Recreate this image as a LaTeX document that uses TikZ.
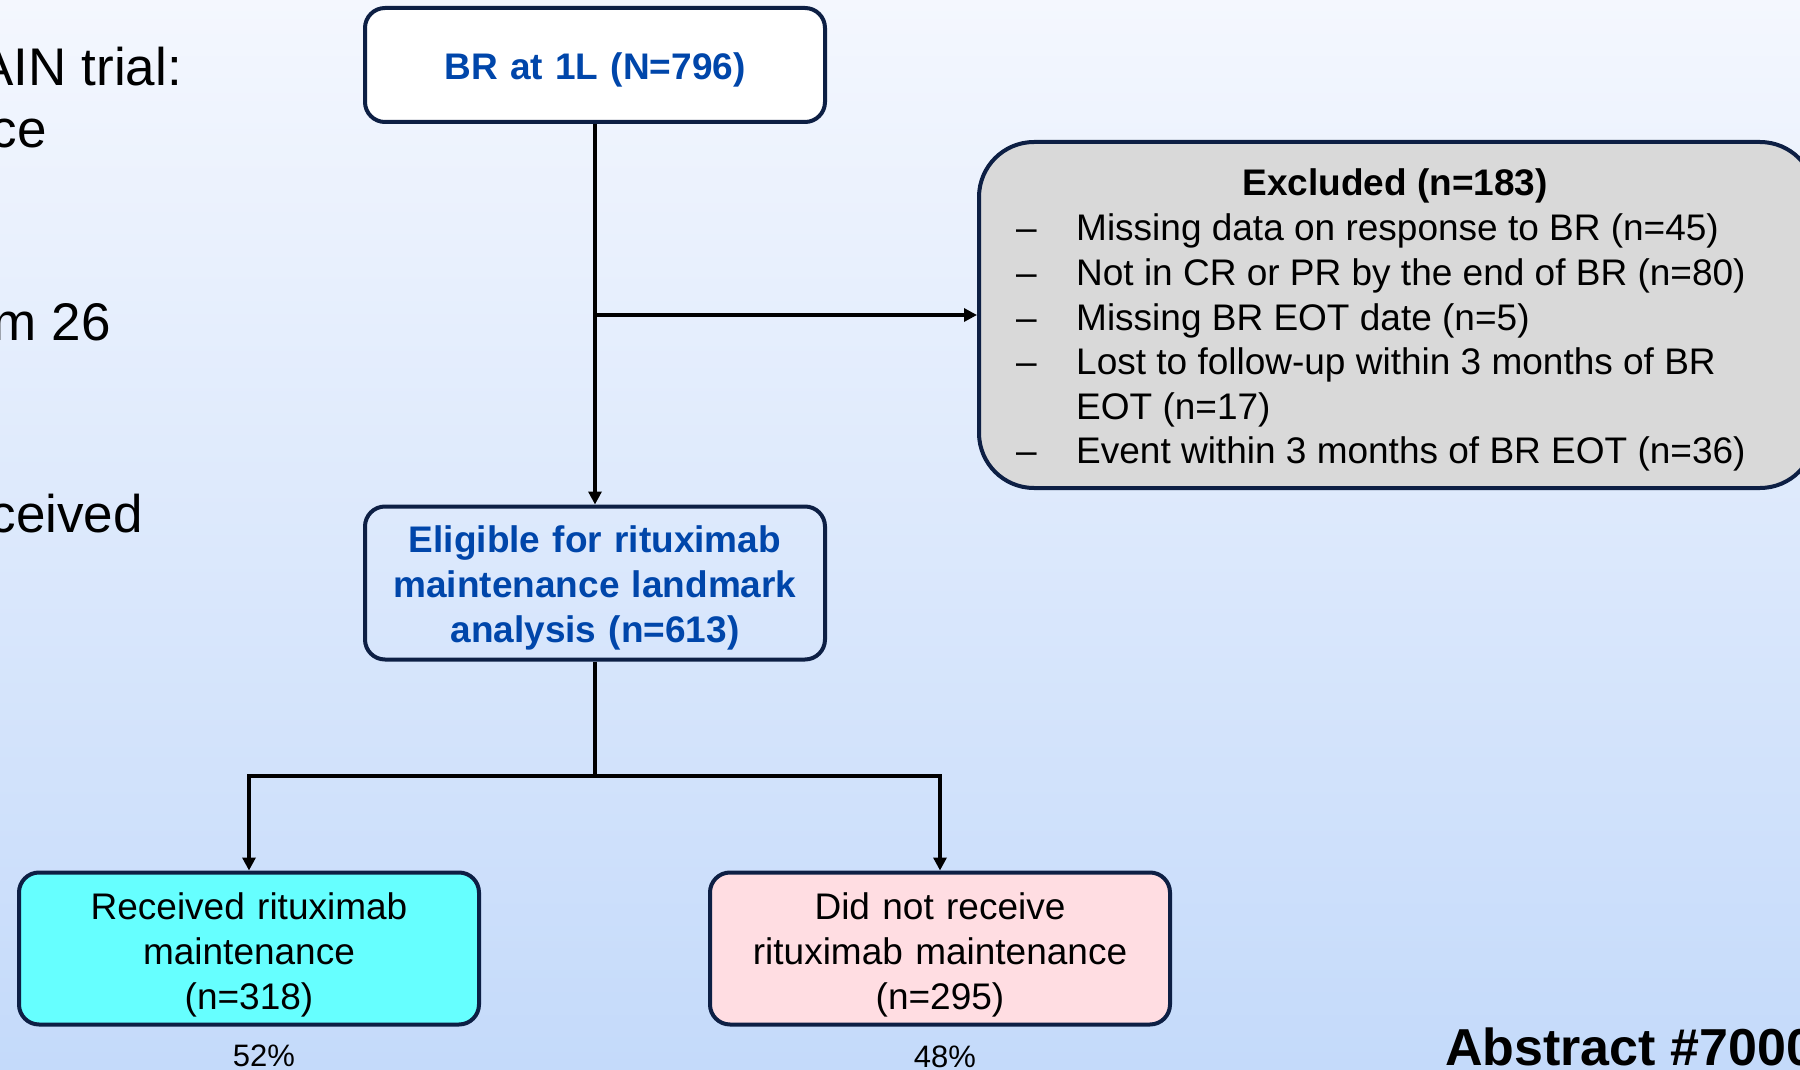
\documentclass[tikz,border=0pt]{standalone}
\usepackage{fontspec}
\setmainfont{Liberation Sans}
\usetikzlibrary{arrows.meta}
\definecolor{navy}{RGB}{13,31,68}
\definecolor{titleblue}{RGB}{0,70,170}
\definecolor{bgtop}{RGB}{244,247,254}
\definecolor{bgbot}{RGB}{196,218,250}
\definecolor{cyanfill}{RGB}{102,255,255}
\definecolor{pinkfill}{RGB}{255,221,226}
\definecolor{greyfill}{RGB}{217,217,217}
\begin{document}
\begin{tikzpicture}[x=1pt,y=-1pt,
  box/.style={draw=navy, line width=4pt, rounded corners=20pt,
    inner sep=0pt, minimum width=460pt},
  boxtext/.style={align=center, inner sep=0pt, text width=440pt,
    font=\fontsize{37}{45}\selectfont},
  bluetext/.style={boxtext, text=titleblue, font=\fontsize{37}{45}\selectfont\bfseries},
  exclbox/.style={draw=navy, line width=4pt, rounded corners=55pt, fill=greyfill,
    minimum width=836pt, minimum height=346pt, inner sep=0pt},
  listtext/.style={anchor=base west, inner sep=0pt, font=\fontsize{37}{45}\selectfont},
  sidetext/.style={anchor=base east, inner sep=0pt, font=\fontsize{53}{62}\selectfont},
  pct/.style={anchor=base, inner sep=0pt, font=\fontsize{31}{36}\selectfont},
  conn/.style={draw=black, line width=3.2pt},
  arr/.style={conn, -{Triangle[length=13pt,width=13pt]}}
]
\useasboundingbox (0,0) rectangle (1800,1070);
\clip (0,0) rectangle (1800,1070);
\shade[top color=bgtop, bottom color=bgbot] (0,0) rectangle (1800,1070);

% left partial text
\node[sidetext] (s1) at (182,86) {AIN trial:};
\node[sidetext] (s2) at (47,148) {ce};
\node[sidetext] (s3) at (111,340) {m 26};
\node[sidetext] (s4) at (143,532) {ceived};

% boxes
\node[box, fill=white, minimum height=114pt] (top) at (595,65) {};
\node[bluetext] (topT) at ([yshift=-5pt]top.center) {BR at 1L (N=796)};
\node[box, minimum height=153pt] (elig) at (595,583) {};
\node[bluetext] (eligT) at ([yshift=-5pt]elig.center)
  {Eligible for rituximab\\maintenance landmark\\analysis (n=613)};
\node[box, fill=cyanfill, minimum height=152pt] (rec) at (249,948.5) {};
\node[boxtext] (recT) at ([yshift=-6pt]rec.center)
  {Received rituximab\\maintenance\\(n=318)};
\node[box, fill=pinkfill, minimum height=152pt] (dnr) at (940,948.5) {};
\node[boxtext] (dnrT) at ([yshift=-6pt]dnr.center)
  {Did not receive\\rituximab maintenance\\(n=295)};
\node[exclbox] (excl) at (1397,315) {};

% excluded text
\node[anchor=base, inner sep=0pt, font=\fontsize{37}{45}\selectfont\bfseries] (exT) at (1395,195) {Excluded (n=183)};
\node[listtext] (d1) at (1016,240) {–};
\node[listtext] (d2) at (1016,285) {–};
\node[listtext] (d3) at (1016,330) {–};
\node[listtext] (d4) at (1016,374) {–};
\node[listtext] (d6) at (1016,463) {–};
\node[listtext] (e1) at (1076,240) {Missing data on response to BR (n=45)};
\node[listtext] (e2) at (1076,285) {Not in CR or PR by the end of BR (n=80)};
\node[listtext] (e3) at (1076,330) {Missing BR EOT date (n=5)};
\node[listtext] (e4) at (1076,374) {Lost to follow-up within 3 months of BR};
\node[listtext] (e5) at (1076,419) {EOT (n=17)};
\node[listtext] (e6) at (1076,463) {Event within 3 months of BR EOT (n=36)};

% percentages
\node[pct] (p1) at (264,1066) {52\%};
\node[pct] (p2) at (945,1067) {48\%};

% abstract label
\node[anchor=base west, inner sep=0pt, font=\fontsize{52}{62}\selectfont\bfseries] (abs) at (1445,1065) {Abstract \#7000};

% connectors
\coordinate (b1) at (595,315);
\coordinate (split) at (595,776);
\draw[arr] (top.south) -- (elig.north);
\draw[arr] (b1) -- (b1 -| excl.west);
\draw[conn] (elig.south) -- (split);
\draw[arr] (split) -| (rec.north);
\draw[arr] (split) -| (dnr.north);
\end{tikzpicture}
\end{document}
